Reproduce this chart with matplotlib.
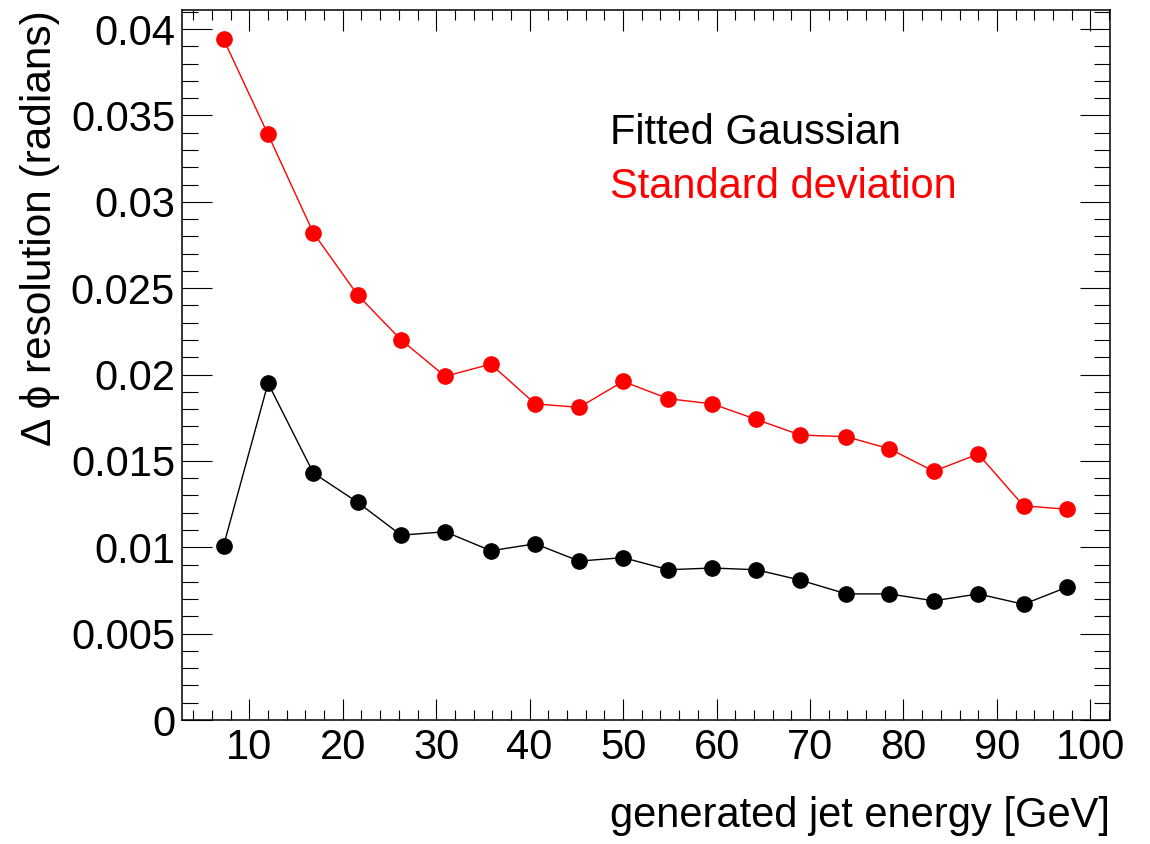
import numpy as np
import matplotlib.pyplot as plt
import matplotlib as mpl
from matplotlib.ticker import MultipleLocator, FuncFormatter

mpl.rcParams['font.family'] = ['Liberation Sans', 'DejaVu Sans']
mpl.rcParams['font.size'] = 30

# --- data ---
energy = [7.25, 12.0, 16.85, 21.6, 26.25, 30.95, 35.85, 40.6, 45.3, 50.0,
          54.85, 59.55, 64.25, 68.95, 73.9, 78.5, 83.25, 88.0, 92.85, 97.55]

sigma_gauss = [0.0101, 0.0195, 0.0143, 0.0126, 0.0107, 0.0109, 0.0098, 0.0102,
               0.0092, 0.0094, 0.0087, 0.0088, 0.0087, 0.0081, 0.0073, 0.0073,
               0.0069, 0.0073, 0.0067, 0.0077]

sigma_std = [0.0394, 0.0339, 0.0282, 0.0246, 0.0220, 0.0199, 0.0206, 0.0183,
             0.0181, 0.0196, 0.0186, 0.0183, 0.0174, 0.0165, 0.0164, 0.0157,
             0.0144, 0.0154, 0.0124, 0.0122]

black = "#000000"
red = "#ff0000"

fig = plt.figure(figsize=(11.5, 8.44), dpi=100)
ax = fig.add_axes([0.1583, 0.1469, 0.9652 - 0.1583, 0.9881 - 0.1469])

ax.plot(energy, sigma_gauss, '-o', color=black, lw=1.0, ms=11, mec=black, mfc=black)
ax.plot(energy, sigma_std, '-o', color=red, lw=1.0, ms=11, mec=red, mfc=red)

ax.set_xlim(2.8, 102.1)
ax.set_ylim(0.0, 0.0411)

ax.xaxis.set_major_locator(MultipleLocator(10))
ax.xaxis.set_minor_locator(MultipleLocator(2))
ax.yaxis.set_major_locator(MultipleLocator(0.005))
ax.yaxis.set_minor_locator(MultipleLocator(0.001))
ax.yaxis.set_major_formatter(FuncFormatter(lambda v, p: "%g" % round(v, 4)))

ax.tick_params(which='both', direction='in', top=True, right=True, width=0.8,
               colors='black')
ax.tick_params(axis='x', which='major', length=15, pad=6)
ax.tick_params(axis='x', which='minor', length=7.5)
ax.tick_params(axis='y', which='major', length=21.5, pad=5)
ax.tick_params(axis='y', which='minor', length=11.5)
for s in ax.spines.values():
    s.set_linewidth(1.1)

ax.set_xlabel("generated jet energy [GeV]", ha='right', x=1.0, labelpad=20)
ax.set_ylabel("Δ ϕ resolution (radians)", ha='right', y=1.0, labelpad=8,
              fontsize=30.5)

ax.text(48.6, 0.03335, "Fitted Gaussian", color=black, fontsize=30)
ax.text(48.6, 0.03023, "Standard deviation", color=red, fontsize=30)

fig.savefig("out.png", dpi=100)
